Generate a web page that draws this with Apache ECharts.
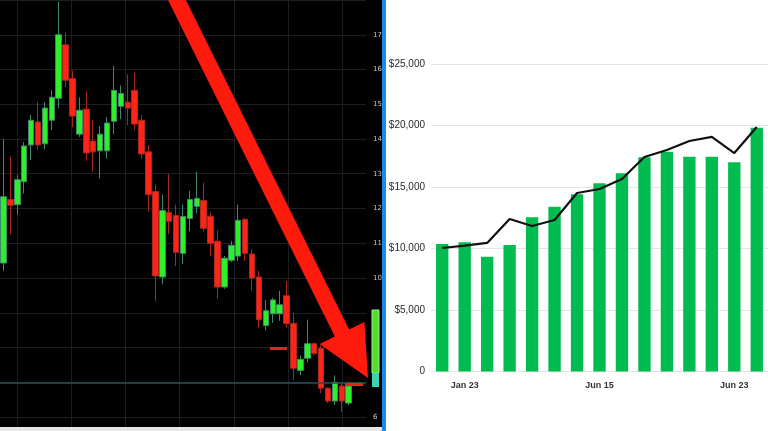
<!DOCTYPE html>
<html><head><meta charset="utf-8">
<script src="https://cdn.jsdelivr.net/npm/echarts@6/dist/echarts.min.js"></script>
<style>
html,body{margin:0;padding:0;}
#c{width:768px;height:431px;
background:
 linear-gradient(90deg, transparent 382px, #1f86ea 382px, #1f86ea 386.5px, transparent 386.5px),
 linear-gradient(#000 0, #000 427px, #e6e6e6 427px) 0 0 / 382px 431px no-repeat,
 #fff;}
</style></head>
<body><div id="c"></div>
<script>
// ---- Left panel: candlestick data (price units) ----
const candleOpen  = [10.43,12.26,12.11,12.77,13.83,14.49,13.86,14.54,15.17,16.71,15.74,14.14,14.86,13.94,13.66,13.66,14.51,14.94,15.06,15.40,14.54,13.63,12.49,10.03,11.89,11.80,10.71,11.71,12.06,12.23,11.77,11.06,9.74,10.51,10.63,11.69,10.69,10.03,8.63,8.97,8.97,9.49,8.69,7.34,7.69,8.11,7.97,6.83,6.46,6.89,6.40];
const candleClose = [12.34,12.09,12.83,13.80,14.54,13.83,14.89,15.20,17.00,15.69,14.66,14.83,13.60,13.63,14.14,14.46,15.40,15.31,14.89,14.43,13.57,12.40,10.06,11.94,11.63,10.74,11.77,12.26,12.29,11.43,11.00,9.74,10.57,10.94,11.66,10.71,10.00,8.80,9.06,9.37,9.23,8.69,7.40,7.66,8.11,7.83,6.83,6.46,7.00,6.46,6.89];
const candleLow   = [10.20,11.26,11.83,12.43,13.40,13.69,13.71,14.26,14.89,15.49,14.34,14.06,13.37,13.06,12.86,13.43,14.14,14.57,14.40,14.26,13.43,11.91,9.34,9.83,11.26,10.34,10.40,11.34,11.86,11.34,10.63,9.40,9.69,10.46,10.49,10.49,9.63,8.57,8.49,8.71,8.77,8.57,7.06,7.20,7.57,7.77,6.69,6.40,6.34,6.14,6.34];
const candleHigh  = [14.00,13.49,12.97,13.91,14.69,15.06,15.06,15.40,17.95,17.06,15.97,15.20,15.37,14.54,14.37,14.63,16.11,15.54,15.86,15.91,14.69,13.83,12.69,12.40,13.00,12.11,12.11,12.51,13.06,12.74,11.89,11.37,10.63,11.06,12.11,11.71,10.83,10.20,9.37,9.43,9.63,9.91,9.00,7.77,8.80,8.14,8.06,6.86,7.20,6.97,6.94];
const candleSlots = 53;
const priceTickLabels = {17:'17',16:'16',15:'15',14:'14',13:'13',12:'12',11:'11',10:'10',6:'6'};

// ---- Right panel: bar + line data ----
const months = ['Dec 22','Jan 23','Feb 23','Mar 23','Apr 23','May 23','Jun 23','Jul 23','Aug 23','Sep 23','Oct 23','Nov 23','Dec 23','Jan 24','Feb 24'];
const monthTickText = {1:'Jan 23',7:'Jun 15',13:'Jun 23'};
const barValues  = [10370,10500,9330,10290,12540,13400,14410,15300,16110,17420,17870,17460,17460,17010,19820];
const lineValues = [10040,10240,10450,12400,11830,12320,14510,14840,15650,17440,18010,18740,19070,17760,19880];

const cats = [];
for (let i = 0; i < candleSlots; i++) cats.push('c' + i);
const ohlc = candleOpen.map((o, i) => [o, candleClose[i], candleLow[i], candleHigh[i]]);

const chart = echarts.init(document.getElementById('c'), null, {renderer: 'canvas'});

// arrow geometry (annotation)
const n = [0.897, -0.442];
const s0 = [172, -10], B = [342, 333], tip = [368, 378];
const hw = 8, hh = 25;
const arrowPts = [
  [s0[0]-hw*n[0], s0[1]-hw*n[1]],
  [B[0]-hw*n[0], B[1]-hw*n[1]],
  [B[0]-hh*n[0], B[1]-hh*n[1]],
  tip,
  [B[0]+hh*n[0], B[1]+hh*n[1]],
  [B[0]+hw*n[0], B[1]+hw*n[1]],
  [s0[0]+hw*n[0], s0[1]+hw*n[1]]
];

chart.setOption({
  backgroundColor: 'transparent',
  animation: false,
  grid: [
    {left: 0, right: 402, top: -3, bottom: 14},
    {left: 17, right: 425.8, top: 0, bottom: 4},
    {left: 431, right: -2, top: 64, bottom: 59.5}
  ],
  xAxis: [
    {type: 'category', gridIndex: 0, data: cats, show: false},
    {type: 'value', gridIndex: 1, min: 0, max: 6, interval: 1,
     axisLine: {show: false}, axisTick: {show: false}, axisLabel: {show: false},
     splitLine: {show: true, lineStyle: {color: '#192022', width: 1}}},
    {type: 'category', gridIndex: 2, data: months,
     axisLine: {show: false}, axisTick: {show: false},
     axisLabel: {interval: 0, margin: 10, fontSize: 9, fontWeight: 'bold', color: '#333',
       fontFamily: 'Liberation Sans, Arial, sans-serif',
       formatter: (v, i) => monthTickText[i] || ''}}
  ],
  yAxis: [
    {type: 'value', gridIndex: 0, position: 'right', min: 6, max: 18, interval: 1,
     axisLine: {show: false}, axisTick: {show: false},
     axisLabel: {margin: 7, fontSize: 7, color: '#c8c8c8', fontFamily: 'DejaVu Sans',
       formatter: v => priceTickLabels[v] || ''},
     splitLine: {show: true, lineStyle: {color: '#192022', width: 1}}},
    {type: 'value', gridIndex: 1, min: 0, max: 1, show: false, splitLine: {show: false}},
    {type: 'value', gridIndex: 2, min: 0, max: 25000, interval: 5000,
     axisLine: {show: false}, axisTick: {show: false},
     axisLabel: {margin: 6, fontSize: 10, color: '#2a2a2a',
       fontFamily: 'Liberation Sans, Arial, sans-serif',
       formatter: v => v === 0 ? '0' : '$' + v.toLocaleString('en-US')},
     splitLine: {show: true, lineStyle: {color: '#e2e4e6', width: 1}}}
  ],
  series: [
    {type: 'candlestick', xAxisIndex: 0, yAxisIndex: 0, data: ohlc, barWidth: 6,
     itemStyle: {color: '#2ef02a', color0: '#ff2418', borderColor: '#3f8a66', borderColor0: '#a8281e', borderWidth: 1},
     markLine: {silent: true, symbol: 'none', label: {show: false},
       lineStyle: {color: '#2c4d5a', width: 1.5, type: 'solid'},
       data: [{yAxis: 7}]}},
    {type: 'bar', xAxisIndex: 2, yAxisIndex: 2, data: barValues, barWidth: '55%',
     itemStyle: {color: '#00bb4f'}},
    {type: 'line', xAxisIndex: 2, yAxisIndex: 2, data: lineValues, symbol: 'none',
     lineStyle: {color: '#111', width: 2.2}, z: 5}
  ],
  graphic: [
    {type: 'rect', z: 50, shape: {x: 270, y: 347, width: 17, height: 3}, style: {fill: '#e3261a'}},
    {type: 'rect', z: 50, shape: {x: 345, y: 383, width: 18, height: 3}, style: {fill: '#e3261a'}},
    {type: 'rect', z: 50, shape: {x: 372, y: 310, width: 7, height: 63}, style: {fill: '#55dd2a', stroke: '#a0e8a0', lineWidth: 1}},
    {type: 'rect', z: 50, shape: {x: 372, y: 373, width: 7, height: 14}, style: {fill: '#3ed2b0'}},
    {type: 'polygon', z: 100, shape: {points: arrowPts}, style: {fill: '#ff1a0e'}}
  ]
});
</script></body></html>
